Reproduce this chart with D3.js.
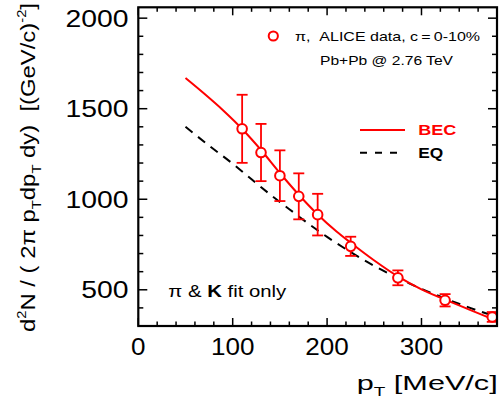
<!DOCTYPE html>
<html><head><meta charset="utf-8">
<script src="https://cdn.jsdelivr.net/npm/d3@7"></script>
<style>
html,body{margin:0;padding:0;background:#fff;}
text{font-family:"Liberation Sans",Arial,sans-serif;white-space:pre;}
</style></head>
<body><svg id="c" width="501" height="409"></svg>
<script>
// ---- data ----
const ptData = [110, 130, 150, 170, 190, 225, 275, 325, 375];
const yieldData = [1389, 1258, 1130, 1016, 915, 740, 566, 442, 350];
const errData = [188, 158, 140, 127, 115, 53, 41, 34, 27];

const becX = [50, 70, 90, 110, 130, 150, 170, 190, 210, 225, 250, 275, 300, 325, 350, 380];
const becY = [1669, 1582, 1490, 1388, 1272, 1145, 1025, 916, 822, 760, 662, 574, 502, 446, 392, 328];

const eqX = [50, 75, 100, 120, 140, 160, 180, 200, 225, 250, 275, 300, 325, 350, 380];
const eqY = [1400, 1296, 1196, 1110, 1025, 945, 866, 792, 708, 632, 565, 505, 452, 403, 350];

const xTicks = [0, 100, 200, 300];
const yTicks = [500, 1000, 1500, 2000];

const svg = d3.select("#c");
const L = 138.3, R = 497, T = 7.3, B = 326;
const x = d3.scaleLinear().domain([0, 380]).range([L, R]);
const y = d3.scaleLinear().domain([300, 2060]).range([B, T]);
const red = "#ff0000";

// curves
const line = d3.line().x(d => x(d[0])).y(d => y(d[1])).curve(d3.curveMonotoneX);
svg.append("path").datum(d3.zip(eqX, eqY)).attr("d", line)
  .attr("fill", "none").attr("stroke", "#000").attr("stroke-width", 2).attr("stroke-dasharray", "9,7");
svg.append("path").datum(d3.zip(becX, becY)).attr("d", line)
  .attr("fill", "none").attr("stroke", red).attr("stroke-width", 2);

// error bars & points
const pts = ptData.map((p, i) => ({p, v: yieldData[i], e: errData[i]}));
const g = svg.append("g").attr("stroke", red).attr("stroke-width", 1.8);
g.selectAll(".eb").data(pts).enter().append("line")
  .attr("x1", d => x(d.p)).attr("x2", d => x(d.p))
  .attr("y1", d => y(d.v - d.e)).attr("y2", d => y(d.v + d.e));
g.selectAll(".ct").data(pts).enter().append("line")
  .attr("x1", d => x(d.p) - 5.5).attr("x2", d => x(d.p) + 5.5)
  .attr("y1", d => y(d.v + d.e)).attr("y2", d => y(d.v + d.e));
g.selectAll(".cb").data(pts).enter().append("line")
  .attr("x1", d => x(d.p) - 5.5).attr("x2", d => x(d.p) + 5.5)
  .attr("y1", d => y(d.v - d.e)).attr("y2", d => y(d.v - d.e));
g.selectAll("circle").data(pts).enter().append("circle")
  .attr("cx", d => x(d.p)).attr("cy", d => y(d.v)).attr("r", 4.8)
  .attr("fill", "#fff").attr("stroke-width", 2);

// axes (ticks inward)
const ax = svg.append("g").attr("stroke", "#000");
const xMinor = d3.range(0, 381, 20);
const yMinor = d3.range(400, 2001, 100);
xMinor.forEach(v => {
  const len = xTicks.includes(v) ? 8 : 4.5;
  ax.append("line").attr("x1", x(v)).attr("x2", x(v)).attr("y1", B).attr("y2", B - len).attr("stroke-width", 1.5);
  ax.append("line").attr("x1", x(v)).attr("x2", x(v)).attr("y1", T).attr("y2", T + len).attr("stroke-width", 1.5);
});
yMinor.forEach(v => {
  const len = yTicks.includes(v) ? 9 : 5;
  ax.append("line").attr("x1", L).attr("x2", L + len).attr("y1", y(v)).attr("y2", y(v)).attr("stroke-width", 1.5);
  ax.append("line").attr("x1", R).attr("x2", R - len).attr("y1", y(v)).attr("y2", y(v)).attr("stroke-width", 1.5);
});
svg.append("rect").attr("x", L).attr("y", T).attr("width", R - L).attr("height", B - T)
  .attr("fill", "none").attr("stroke", "#000").attr("stroke-width", 2.2);

// tick labels
svg.selectAll(".yl").data(yTicks).enter().append("text")
  .attr("x", 128.5).attr("y", d => y(d) + 8.5).attr("text-anchor", "end")
  .attr("font-size", 23.5).attr("textLength", d => String(d).length * 15.75)
  .attr("lengthAdjust", "spacingAndGlyphs").text(d => d);
svg.selectAll(".xl").data(xTicks).enter().append("text")
  .attr("x", d => x(d)).attr("y", 355).attr("text-anchor", "middle")
  .attr("font-size", 24).attr("textLength", d => String(d).length * 14.5)
  .attr("lengthAdjust", "spacingAndGlyphs").text(d => d);

// axis titles
const xt = svg.append("text").attr("x", 356.7).attr("y", 390).attr("font-size", 21)
  .attr("textLength", 141).attr("lengthAdjust", "spacingAndGlyphs");
xt.append("tspan").text("p");
xt.append("tspan").attr("font-size", 13).attr("dy", 6).text("T");
xt.append("tspan").attr("dy", -6).text(" [MeV/c]");

const yt = svg.append("text").attr("transform", "translate(35,167.5) rotate(-90)")
  .attr("text-anchor", "middle").attr("font-size", 21)
  .attr("textLength", 329).attr("lengthAdjust", "spacingAndGlyphs");
yt.append("tspan").text("d");
yt.append("tspan").attr("font-size", 13).attr("dy", -9).text("2");
yt.append("tspan").attr("dy", 9).text("N / ( 2\u03c0 p");
yt.append("tspan").attr("font-size", 13).attr("dy", 6).text("T");
yt.append("tspan").attr("dy", -6).text("dp");
yt.append("tspan").attr("font-size", 13).attr("dy", 6).text("T");
yt.append("tspan").attr("dy", -6).text(" dy)  [(GeV/c)");
yt.append("tspan").attr("font-size", 13).attr("dy", -9).text("-2");
yt.append("tspan").attr("dy", 9).text("]");

// legend
svg.append("circle").attr("cx", 273.3).attr("cy", 36).attr("r", 4.6)
  .attr("fill", "#fff").attr("stroke", red).attr("stroke-width", 2);
svg.append("text").attr("x", 295).attr("y", 41).attr("font-size", 13)
  .attr("textLength", 185).attr("lengthAdjust", "spacingAndGlyphs")
  .text("\u03c0,  ALICE data, c\u2009=\u20090-10%");
svg.append("text").attr("x", 320).attr("y", 65).attr("font-size", 13)
  .attr("textLength", 133).attr("lengthAdjust", "spacingAndGlyphs")
  .text("Pb+Pb @ 2.76 TeV");

svg.append("line").attr("x1", 360).attr("x2", 405).attr("y1", 130).attr("y2", 130)
  .attr("stroke", red).attr("stroke-width", 2);
svg.append("text").attr("x", 418.3).attr("y", 135).attr("font-size", 14).attr("font-weight", "bold")
  .attr("fill", red).attr("textLength", 38).attr("lengthAdjust", "spacingAndGlyphs").text("BEC");
svg.append("line").attr("x1", 360).attr("x2", 405).attr("y1", 152.7).attr("y2", 152.7)
  .attr("stroke", "#000").attr("stroke-width", 2).attr("stroke-dasharray", "7,8");
svg.append("text").attr("x", 418.3).attr("y", 158).attr("font-size", 14).attr("font-weight", "bold")
  .attr("textLength", 25).attr("lengthAdjust", "spacingAndGlyphs").text("EQ");

// annotation
const an = svg.append("text").attr("x", 168.3).attr("y", 296.5).attr("font-size", 17)
  .attr("textLength", 118).attr("lengthAdjust", "spacingAndGlyphs");
an.append("tspan").text("\u03c0 & ");
an.append("tspan").attr("font-weight", "bold").text("K");
an.append("tspan").text(" fit only");
</script></body></html>
